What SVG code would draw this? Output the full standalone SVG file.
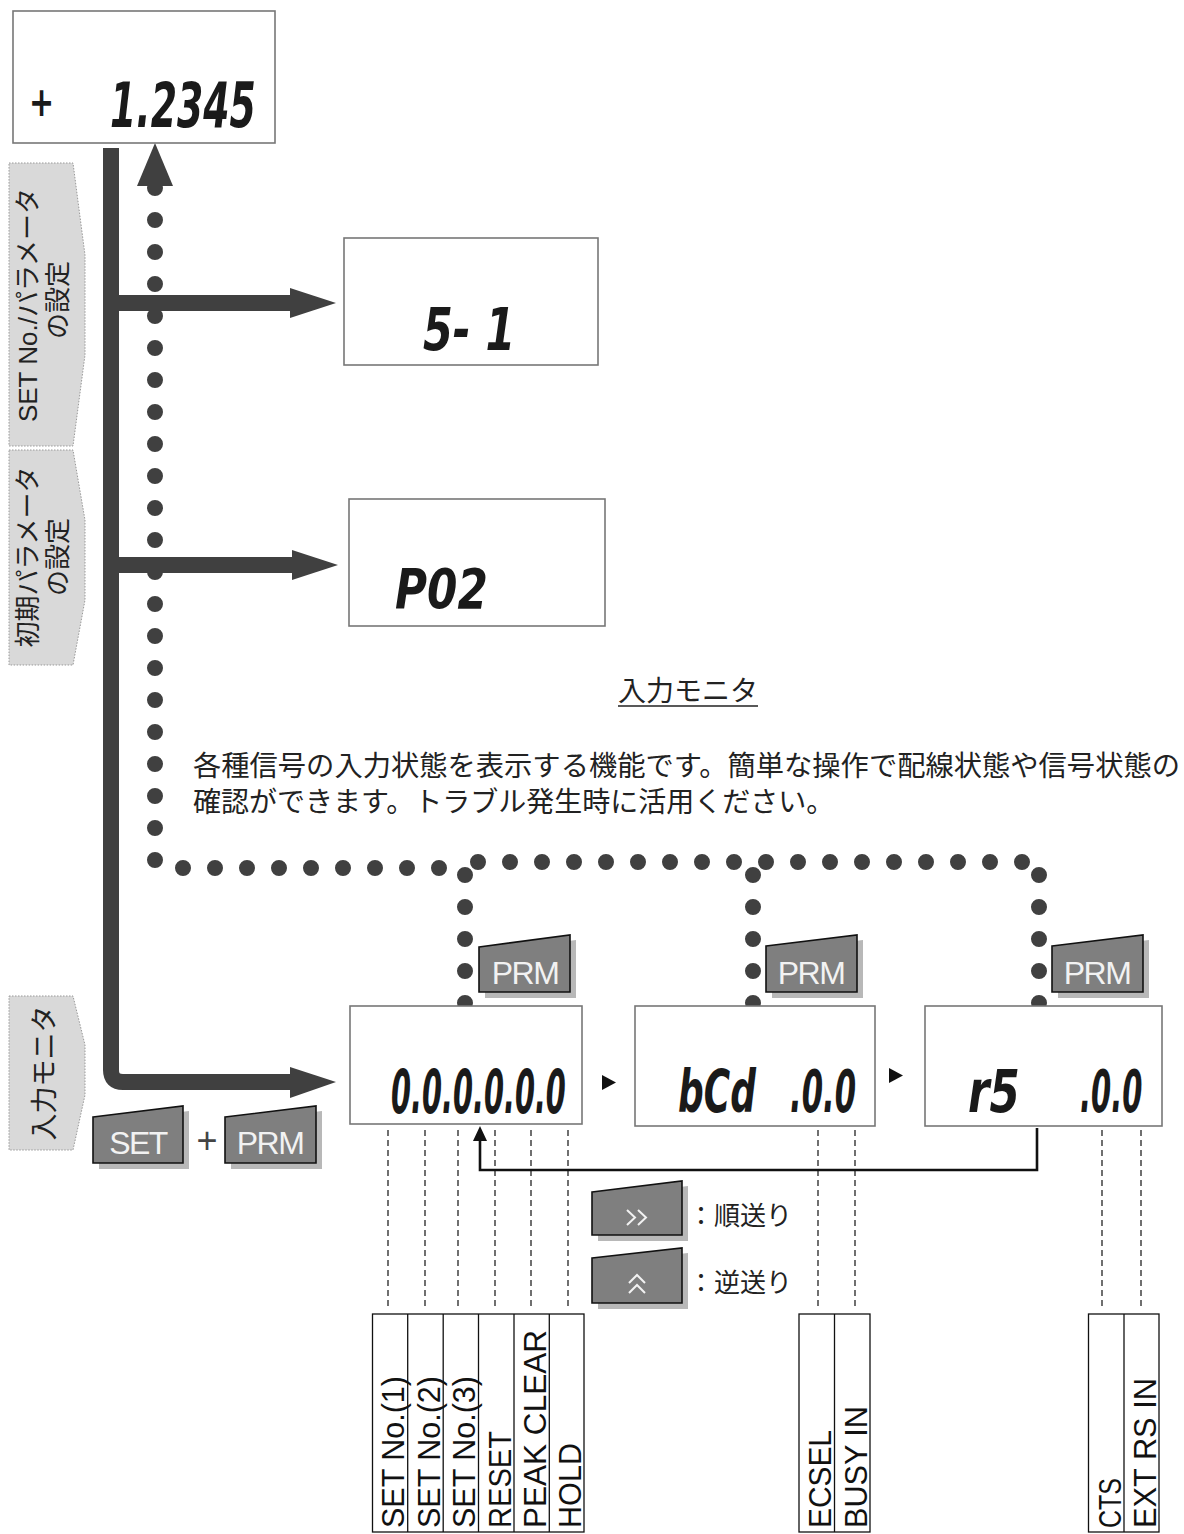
<svg xmlns="http://www.w3.org/2000/svg" width="1184" height="1534" viewBox="0 0 1184 1534">
<style>
.disp{fill:#fff;stroke:#777;stroke-width:1.6}
.seg{font-family:"DejaVu Sans",sans-serif;font-weight:bold;font-style:italic;fill:#1a1a1a}
.dots{fill:none;stroke:#404040;stroke-width:16;stroke-linecap:round;stroke-dasharray:0 32}
.bar{fill:none;stroke:#404040;stroke-width:16}
.head{fill:#404040}
.tab{fill:#d9d9d9;stroke:#999;stroke-width:1;stroke-dasharray:1.5 1.5}
.tabt{font-family:"Liberation Sans","Noto Sans CJK JP",sans-serif;font-size:26px;fill:#222}
.btn{fill:#7f7f7f;stroke:#111;stroke-width:1.6}
.shd{fill:#b8b8b8}
.btnt{font-family:"Liberation Sans",Arial,sans-serif;font-size:32px;fill:#f2f2f2;text-anchor:middle;letter-spacing:-1.5px}
.jp{font-family:"Liberation Sans","Noto Sans CJK JP",sans-serif;font-size:28px;fill:#222}
.dash{stroke:#111;stroke-width:1.2;stroke-dasharray:6 4}
.cell{fill:#fff;stroke:#111;stroke-width:1.3}
.lab{font-family:"Liberation Sans",Arial,sans-serif;font-size:31px;fill:#111}
</style>

<!-- side tabs -->
<g id="tab-setno">
<polygon class="tab" points="9,163 73,163 85,255 85,355 73,446 9,446"/>
<text class="tabt" transform="translate(37,305) rotate(-90)" text-anchor="middle">SET No./パラメータ</text>
<text class="tabt" transform="translate(67,300) rotate(-90)" text-anchor="middle">の設定</text>
</g>
<g id="tab-init">
<polygon class="tab" points="9,450 73,450 85,520 85,600 73,665 9,665"/>
<text class="tabt" transform="translate(37,557) rotate(-90)" text-anchor="middle">初期パラメータ</text>
<text class="tabt" transform="translate(67,557) rotate(-90)" text-anchor="middle">の設定</text>
</g>
<g id="tab-monitor">
<polygon class="tab" points="9,996 73,996 85,1045 85,1095 73,1150 9,1150"/>
<text class="tabt" style="font-size:27px" transform="translate(54,1073) rotate(-90)" text-anchor="middle">入力モニタ</text>
</g>

<!-- connectors -->
<g id="connectors">
<path class="dots" d="M155,188 V861"/>
<path class="dots" d="M183,868 H440"/>
<path class="dots" d="M478,862 H1023"/>
<path class="dots" d="M465,875 V1004"/>
<path class="dots" d="M753,875 V1004"/>
<path class="dots" d="M1039,875 V1004"/>
<polygon class="head" points="155,143 173,186 137,186"/>
<path class="bar" d="M111,148 V1070 Q111,1082 123,1082 H294"/>
<polygon class="head" points="290,1067 336,1082 290,1098"/>
<path class="bar" d="M111,303 H294"/>
<polygon class="head" points="290,288 336,303 290,318"/>
<path class="bar" d="M111,565 H294"/>
<polygon class="head" points="292,550 338,565 292,580"/>
<polygon fill="#111" points="602,1075 602,1090 616,1082.5"/>
<polygon fill="#111" points="889,1068 889,1083 903,1075.5"/>
<path d="M1037,1128 V1170 H480 V1138" fill="none" stroke="#111" stroke-width="2.6"/>
<polygon fill="#111" points="480,1126 487,1141 473,1141"/>
<line class="dash" x1="388" y1="1130" x2="388" y2="1310"/>
<line class="dash" x1="425" y1="1130" x2="425" y2="1310"/>
<line class="dash" x1="458" y1="1130" x2="458" y2="1310"/>
<line class="dash" x1="495" y1="1130" x2="495" y2="1310"/>
<line class="dash" x1="531" y1="1130" x2="531" y2="1310"/>
<line class="dash" x1="568" y1="1130" x2="568" y2="1310"/>
<line class="dash" x1="818" y1="1130" x2="818" y2="1310"/>
<line class="dash" x1="855" y1="1130" x2="855" y2="1310"/>
<line class="dash" x1="1102" y1="1130" x2="1102" y2="1310"/>
<line class="dash" x1="1141" y1="1130" x2="1141" y2="1310"/>
</g>

<!-- displays -->
<g id="disp-main">
<rect class="disp" x="13" y="11" width="262" height="132"/>
<text class="seg" font-size="40" transform="translate(29,116) scale(0.75,1)" style="font-style:normal">+</text>
<text class="seg" font-size="62" transform="translate(110,127) scale(0.61,1)">1.2345</text>
</g>
<g id="disp-s1">
<rect class="disp" x="344" y="238" width="254" height="127"/>
<text class="seg" font-size="58" transform="translate(423,350) scale(0.74,1)">5- 1</text>
</g>
<g id="disp-p02">
<rect class="disp" x="349" y="499" width="256" height="127"/>
<text class="seg" font-size="56" transform="translate(395,608) scale(0.78,1)">P02</text>
</g>
<g id="disp-in1">
<rect class="disp" x="350" y="1006" width="232" height="118"/>
<text class="seg" font-size="60" transform="translate(391,1113) scale(0.48,1)">0.0.0.0.0.0</text>
</g>
<g id="disp-in2">
<rect class="disp" x="635" y="1006" width="240" height="120"/>
<text class="seg" font-size="58" transform="translate(678,1112) scale(0.62,1)">bCd</text>
<text class="seg" font-size="58" transform="translate(790,1112) scale(0.53,1)">.0.0</text>
</g>
<g id="disp-in3">
<rect class="disp" x="925" y="1006" width="237" height="120"/>
<text class="seg" font-size="58" transform="translate(968,1112) scale(0.75,1)">r5</text>
<text class="seg" font-size="58" transform="translate(1080,1112) scale(0.5,1)">.0.0</text>
</g>

<!-- buttons -->
<g id="btn-prm1">
<polygon class="shd" points="485,952 576,940 576,998 485,998"/>
<polygon class="btn" points="479,947 570,935 570,992 479,992"/>
<text class="btnt" x="525" y="984">PRM</text>
</g>
<g id="btn-prm2">
<polygon class="shd" points="772,951 863,940 863,998 772,998"/>
<polygon class="btn" points="766,946 857,935 857,992 766,992"/>
<text class="btnt" x="811" y="984">PRM</text>
</g>
<g id="btn-prm3">
<polygon class="shd" points="1058,951 1149,940 1149,998 1058,998"/>
<polygon class="btn" points="1052,946 1143,935 1143,992 1052,992"/>
<text class="btnt" x="1097" y="984">PRM</text>
</g>
<g id="btn-set">
<polygon class="shd" points="99,1122 189,1111 189,1169 99,1169"/>
<polygon class="btn" points="93,1117 183,1106 183,1163 93,1163"/>
<text class="btnt" x="138" y="1154">SET</text>
</g>
<text x="207" y="1153" font-family="Liberation Sans,Arial,sans-serif" font-size="36" fill="#444" text-anchor="middle">+</text>
<g id="btn-prm0">
<polygon class="shd" points="231,1122 322,1111 322,1169 231,1169"/>
<polygon class="btn" points="225,1117 316,1106 316,1163 225,1163"/>
<text class="btnt" x="270" y="1154">PRM</text>
</g>
<g id="btn-fwd">
<polygon class="shd" points="598,1197 688,1186 688,1241 598,1241"/>
<polygon class="btn" points="592,1192 682,1181 682,1235 592,1235"/>
<polyline points="627,1210 635,1217.5 627,1225" fill="none" stroke="#f2f2f2" stroke-width="2"/>
<polyline points="638,1210 646,1217.5 638,1225" fill="none" stroke="#f2f2f2" stroke-width="2"/>
<text class="jp" x="688" y="1225" style="font-size:26px">：順送り</text>
</g>
<g id="btn-rev">
<polygon class="shd" points="598,1263 688,1253 688,1309 598,1309"/>
<polygon class="btn" points="592,1258 682,1248 682,1303 592,1303"/>
<polyline points="629,1283 637,1275 645,1283" fill="none" stroke="#f2f2f2" stroke-width="2"/>
<polyline points="629,1293 637,1285 645,1293" fill="none" stroke="#f2f2f2" stroke-width="2"/>
<text class="jp" x="688" y="1292" style="font-size:26px">：逆送り</text>
</g>

<!-- description -->
<g id="desc">
<text class="jp" x="688" y="701" text-anchor="middle">入力モニタ</text>
<line x1="618" y1="706" x2="758" y2="706" stroke="#222" stroke-width="1.3"/>
<text class="jp" x="193" y="776" textLength="987" lengthAdjust="spacingAndGlyphs">各種信号の入力状態を表示する機能です。簡単な操作で配線状態や信号状態の</text>
<text class="jp" x="193" y="812">確認ができます。トラブル発生時に活用ください。</text>
</g>

<!-- signal tables -->
<g id="table1">
<rect class="cell" x="372.5" y="1314" width="211.5" height="218"/>
<line x1="407.7" y1="1314" x2="407.7" y2="1532" stroke="#111" stroke-width="1.3"/>
<line x1="443.2" y1="1314" x2="443.2" y2="1532" stroke="#111" stroke-width="1.3"/>
<line x1="478.5" y1="1314" x2="478.5" y2="1532" stroke="#111" stroke-width="1.3"/>
<line x1="514" y1="1314" x2="514" y2="1532" stroke="#111" stroke-width="1.3"/>
<line x1="549.3" y1="1314" x2="549.3" y2="1532" stroke="#111" stroke-width="1.3"/>
<text class="lab" transform="translate(404,1528) rotate(-90)" textLength="152" lengthAdjust="spacingAndGlyphs">SET No.(1)</text>
<text class="lab" transform="translate(439.5,1528) rotate(-90)" textLength="152" lengthAdjust="spacingAndGlyphs">SET No.(2)</text>
<text class="lab" transform="translate(475,1528) rotate(-90)" textLength="152" lengthAdjust="spacingAndGlyphs">SET No.(3)</text>
<text class="lab" transform="translate(510.5,1528) rotate(-90)" textLength="97" lengthAdjust="spacingAndGlyphs">RESET</text>
<text class="lab" transform="translate(546,1528) rotate(-90)" textLength="198" lengthAdjust="spacingAndGlyphs">PEAK CLEAR</text>
<text class="lab" transform="translate(581,1528) rotate(-90)" textLength="85" lengthAdjust="spacingAndGlyphs">HOLD</text>
</g>
<g id="table2">
<rect class="cell" x="799" y="1314" width="71" height="218"/>
<line x1="834.5" y1="1314" x2="834.5" y2="1532" stroke="#111" stroke-width="1.3"/>
<text class="lab" transform="translate(831,1528) rotate(-90)" textLength="98" lengthAdjust="spacingAndGlyphs">ECSEL</text>
<text class="lab" transform="translate(866.5,1528) rotate(-90)" textLength="122" lengthAdjust="spacingAndGlyphs">BUSY IN</text>
</g>
<g id="table3">
<rect class="cell" x="1088.5" y="1314" width="70.5" height="218"/>
<line x1="1124" y1="1314" x2="1124" y2="1532" stroke="#111" stroke-width="1.3"/>
<text class="lab" transform="translate(1120.5,1528) rotate(-90)" textLength="50" lengthAdjust="spacingAndGlyphs">CTS</text>
<text class="lab" transform="translate(1156,1528) rotate(-90)" textLength="150" lengthAdjust="spacingAndGlyphs">EXT RS IN</text>
</g>
</svg>
